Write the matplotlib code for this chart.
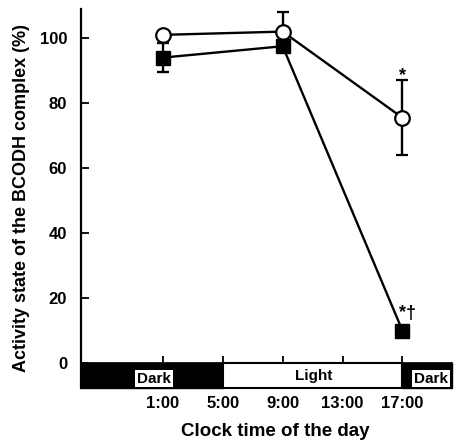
import matplotlib
matplotlib.use("Agg")
import matplotlib.pyplot as plt
from matplotlib.patches import Rectangle

plt.rcParams['font.family'] = ['Liberation Sans', 'DejaVu Sans']
plt.rcParams['font.weight'] = 'bold'

# sampling times (clock hour)
hours = [1, 9, 17]
# open circles
open_vals = [101, 102, 75.5]
open_err = [0, 6, 11.5]
# filled squares
closed_vals = [94, 97.5, 10]
closed_err = [4.5, 0, 0]

tick_hours = [1, 5, 9, 13, 17]
tick_labels = ["1:00", "5:00", "9:00", "13:00", "17:00"]
light_on, light_off = 5, 17

xmin, xmax = -4.47, 20.3
ymin, ymax = -7.7, 109

fig = plt.figure(figsize=(4.55, 4.43), dpi=100)
ax = fig.add_axes([0.178, 0.124, 0.815, 0.856])

# light/dark strip under the zero line
ax.add_patch(Rectangle((xmin, ymin), light_on - xmin, -ymin, facecolor="black", edgecolor="black", clip_on=False))
ax.add_patch(Rectangle((light_on, ymin), light_off - light_on, -ymin, facecolor="white", edgecolor="black", lw=1.5, clip_on=False))
ax.add_patch(Rectangle((light_off, ymin), xmax - light_off, -ymin, facecolor="black", edgecolor="black", clip_on=False))
box = dict(boxstyle="square,pad=0.12", facecolor="white", edgecolor="none")
ax.text(0.4, -4.8, "Dark", ha="center", va="center", fontsize=11, fontweight="bold", bbox=box)
ax.text(11.1, -3.9, "Light", ha="center", va="center", fontsize=11, fontweight="bold")
ax.text(18.9, -4.8, "Dark", ha="center", va="center", fontsize=11, fontweight="bold", bbox=box)

ax.errorbar(hours, open_vals, yerr=open_err, color="black", lw=1.7, capsize=4, capthick=1.7,
            marker="o", ms=10.5, mfc="white", mec="black", mew=1.6, zorder=3)
ax.errorbar(hours, closed_vals, yerr=closed_err, color="black", lw=1.7, capsize=4, capthick=1.7,
            marker="s", ms=10.5, mfc="black", mec="black", zorder=4)

ax.text(17, 88.5, "*", ha="center", va="center", fontsize=13, fontweight="bold")
ax.text(17.35, 15.2, "*\u2020", ha="center", va="center", fontsize=13, fontweight="bold")

ax.set_xlim(xmin, xmax)
ax.set_ylim(ymin, ymax)
ax.spines['top'].set_visible(False)
ax.spines['right'].set_visible(False)
ax.spines['bottom'].set_position(('data', 0))
ax.spines['left'].set_linewidth(1.6)
ax.spines['bottom'].set_linewidth(1.2)

ax.set_yticks([0, 20, 40, 60, 80, 100])
ax.set_xticks(tick_hours)
ax.set_xticklabels(tick_labels)
ax.tick_params(axis='y', direction='in', length=6, width=1.3, labelsize=12, pad=10)
ax.tick_params(axis='x', direction='in', length=5, width=1.3, labelsize=12, pad=24)
for lab in ax.get_xticklabels() + ax.get_yticklabels():
    lab.set_fontweight("bold")

ax.set_ylabel("Activity state of the BCODH complex (%)", fontsize=13, fontweight="bold", labelpad=7)
fig.text(0.605, 0.006, "Clock time of the day", ha="center", va="bottom", fontsize=13.5, fontweight="bold")

fig.savefig("out.png", dpi=100)
